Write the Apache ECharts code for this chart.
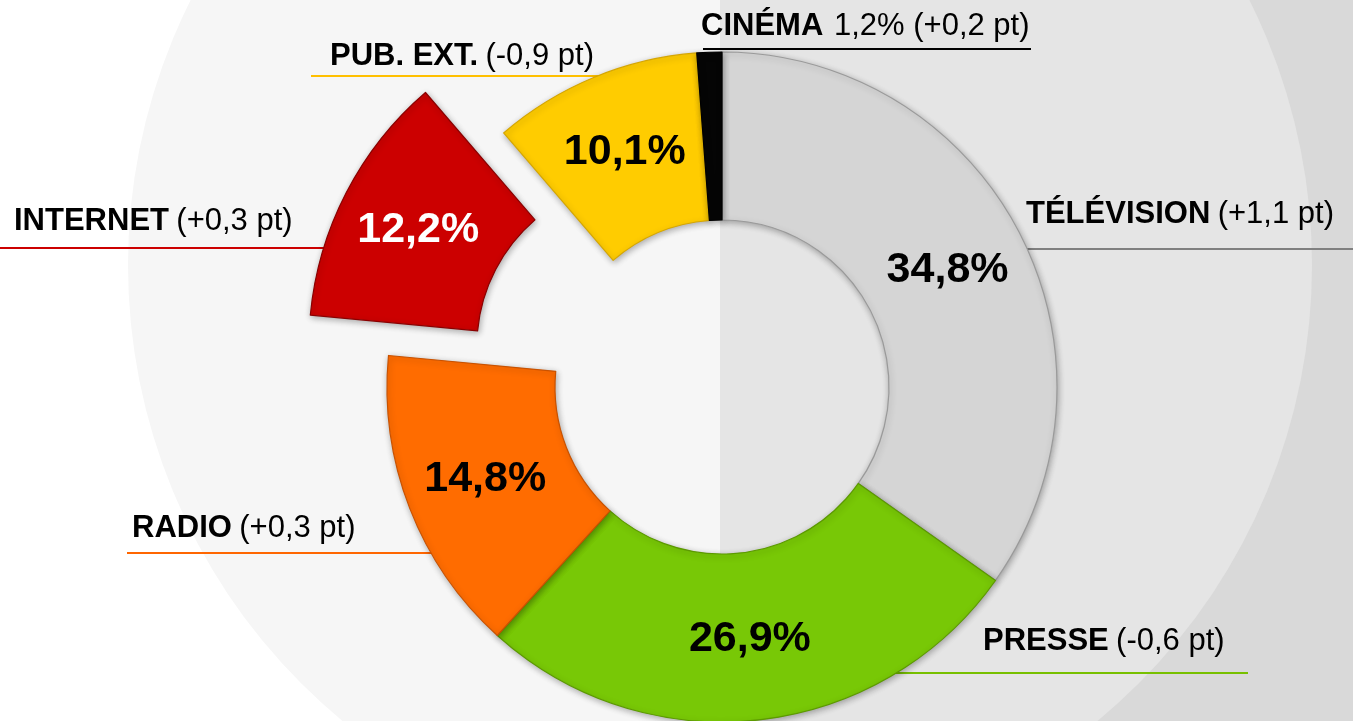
<!DOCTYPE html>
<html>
<head>
<meta charset="utf-8">
<script src="https://cdn.jsdelivr.net/npm/echarts@6/dist/echarts.min.js"></script>
<style>
html,body{margin:0;padding:0;background:#fff;}
#chart{width:1353px;height:721px;}
</style>
</head>
<body>
<div id="chart"></div>
<script>
// ---- data ----
const categories = ['TÉLÉVISION', 'PRESSE', 'RADIO', 'INTERNET', 'PUB. EXT.', 'CINÉMA'];
const shares = [34.8, 26.9, 14.8, 12.2, 10.1, 1.2];          // part de marché, %
const changes = [1.1, -0.6, 0.3, 0.3, -0.9, 0.2];            // évolution, points
const exploded = ['INTERNET'];

// ---- styles ----
const sliceColors = ['#d5d5d5', '#78c806', '#ff6c00', '#cc0000', '#ffcc00', '#050505'];
const sliceBorders = ['#9a9a9a', '#5c9a00', '#c95200', '#8a0000', '#d6a600', '#000000'];
const lineColors = ['#808080', '#78c000', '#ff6600', '#cc0000', '#ffc000', '#000000'];
const innerTextColors = ['#000', '#000', '#000', '#fff', '#000', '#000'];

// label placement (pixels): text left x, text middle y, underline y, underline from/to
const labelPos = [
  {x: 1026, y: 214, ly: 249, l0: 1017, l1: 1353},
  {x: 983,  y: 641, ly: 673, l0: 889,  l1: 1248},
  {x: 132,  y: 528, ly: 553, l0: 127,  l1: 445},
  {x: 14,   y: 221, ly: 248, l0: 0,    l1: 340},
  {x: 330,  y: 56,  ly: 76,  l0: 311,  l1: 640},
  {x: 701,  y: 26,  ly: 49,  l0: 703,  l1: 1031}
];

const fmtNum = v => v.toFixed(1).replace('.', ',');
const fmtChg = v => (v > 0 ? '+' : '') + fmtNum(v);

const chart = echarts.init(document.getElementById('chart'), null, {renderer: 'canvas'});

const CX = 722, CY = 387;

const sliceData = categories.map((c, i) => ({
  name: c,
  value: shares[i],
  selected: exploded.indexOf(c) >= 0,
  itemStyle: {color: sliceColors[i], borderColor: sliceBorders[i]},
  label: {color: innerTextColors[i]}
}));

const labelData = categories.map((c, i) => ({
  name: c,
  value: shares[i],
  labelLine: {lineStyle: {color: lineColors[i]}}
}));

const option = {
  animation: false,
  graphic: {
    elements: [
      {type: 'rect', z: 0, silent: true, shape: {x: 720, y: 0, width: 640, height: 721}, style: {fill: '#d9d9d9'}},
      {type: 'sector', z: 0, silent: true, shape: {cx: 720, cy: 265, r: 592, r0: 0, startAngle: -Math.PI / 2, endAngle: Math.PI / 2}, style: {fill: '#e5e5e5'}},
      {type: 'sector', z: 0, silent: true, shape: {cx: 720, cy: 265, r: 592, r0: 0, startAngle: Math.PI / 2, endAngle: Math.PI * 1.5}, style: {fill: '#f6f6f6'}}
    ]
  },
  series: [
    {
      // outer labels with underline
      type: 'pie',
      z: 3,
      silent: true,
      center: [CX, CY],
      radius: [167, 335],
      startAngle: 90,
      clockwise: true,
      avoidLabelOverlap: false,
      itemStyle: {color: 'rgba(0,0,0,0)'},
      emphasis: {disabled: true},
      label: {
        show: true,
        position: 'outside',
        formatter: p => {
          const i = p.dataIndex;
          if (i === categories.length - 1) {
            return '{b|' + p.name + '}  {n|' + fmtNum(p.value) + '% (' + fmtChg(changes[i]) + ' pt)}';
          }
          return '{b|' + p.name + '} {n|(' + fmtChg(changes[i]) + ' pt)}';
        },
        rich: {
          b: {fontFamily: 'Liberation Sans, Arial, sans-serif', fontWeight: 'bold', fontSize: 31, color: '#000'},
          n: {fontFamily: 'Liberation Sans, Arial, sans-serif', fontSize: 31, color: '#000', padding: [0, 0, 0, 4]}
        }
      },
      labelLine: {show: true, lineStyle: {width: 2}},
      labelLayout: params => {
        const p = labelPos[params.dataIndex];
        return {
          x: p.x, y: p.y, align: 'left', verticalAlign: 'middle',
          labelLinePoints: [[p.l0, p.ly], [p.l0, p.ly], [p.l1, p.ly]]
        };
      },
      data: labelData
    },
    {
      // donut slices
      type: 'pie',
      z: 4,
      center: [CX, CY],
      radius: [167, 335],
      startAngle: 90,
      clockwise: true,
      selectedMode: 'single',
      selectedOffset: 88,
      avoidLabelOverlap: false,
      emphasis: {disabled: true},
      select: {itemStyle: {}},
      itemStyle: {
        borderWidth: 1.2,
        shadowBlur: 6,
        shadowColor: 'rgba(0,0,0,0.30)',
        shadowOffsetX: 1,
        shadowOffsetY: 2
      },
      label: {
        show: true,
        position: 'inside',
        fontFamily: 'Liberation Sans, Arial, sans-serif',
        fontWeight: 'bold',
        fontSize: 43,
        formatter: p => (p.dataIndex === categories.length - 1 ? '' : fmtNum(p.value) + '%')
      },
      labelLine: {show: false},
      data: sliceData
    }
  ]
};

chart.setOption(option);
</script>
</body>
</html>
